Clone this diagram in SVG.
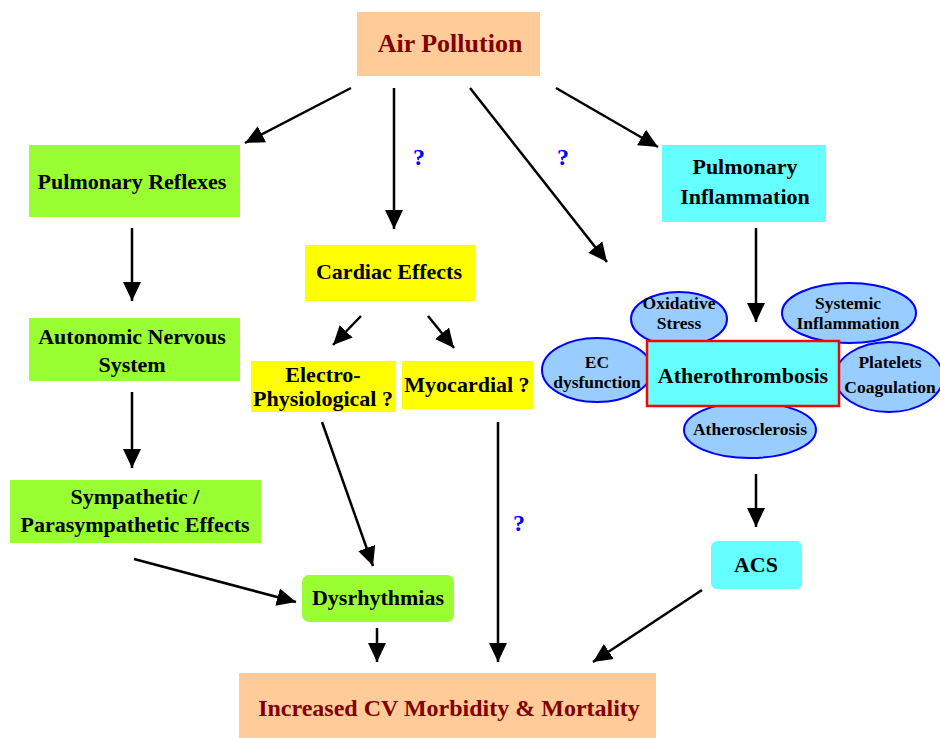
<svg xmlns="http://www.w3.org/2000/svg" width="940" height="738" viewBox="0 0 940 738">
<style>
text{font-family:"Liberation Serif","Times New Roman",serif;font-weight:bold;text-anchor:middle;fill:#000}
.t{font-size:22px}
.big{font-size:24px;fill:#800000}
.e{font-size:17.5px}
.q{font-size:24px;fill:#0000FF}
.peach{fill:#FFCC99}
.green{fill:#99FF33}
.yellow{fill:#FFFF00}
.cyan{fill:#66FFFF}
.ell{fill:#99CCFF;stroke:#0000FF;stroke-width:2}
.c line{stroke:#000;stroke-width:2.5;marker-end:url(#ah)}
</style>
<defs>
<marker id="ah" markerUnits="userSpaceOnUse" markerWidth="20" markerHeight="20" viewBox="0 0 20 20" refX="19" refY="10" orient="auto">
<path d="M0,1 L19,10 L0,19 z" fill="#000"/>
</marker>
</defs>
<rect width="940" height="738" fill="#fff"/>

<g id="air-pollution"><rect class="peach" x="357" y="12" width="183" height="64"/><text class="big" x="450" y="52" style="font-size:26px">Air Pollution</text></g>
<g id="pulmonary-reflexes"><rect class="green" x="29" y="145" width="211" height="72"/><text class="t" x="132" y="189">Pulmonary Reflexes</text></g>
<g id="autonomic"><rect class="green" x="29" y="318" width="211" height="63"/><text class="t" x="132" y="344">Autonomic Nervous</text><text class="t" x="132" y="372">System</text></g>
<g id="sympathetic"><rect class="green" x="10" y="480" width="251" height="63"/><text class="t" x="135" y="504">Sympathetic /</text><text class="t" x="135" y="532">Parasympathetic Effects</text></g>
<g id="cardiac-effects"><rect class="yellow" x="305" y="245" width="170" height="56"/><text class="t" x="389" y="279">Cardiac Effects</text></g>
<g id="electro"><rect class="yellow" x="251" y="361" width="145" height="51"/><text class="t" x="323" y="382">Electro-</text><text class="t" x="323" y="406">Physiological ?</text></g>
<g id="myocardial"><rect class="yellow" x="402" y="361" width="131" height="48"/><text class="t" x="467" y="392">Myocardial ?</text></g>
<g id="dysrhythmias"><rect class="green" x="302" y="575" width="152" height="47" rx="7"/><text class="t" x="378" y="605">Dysrhythmias</text></g>
<g id="pulmonary-inflammation"><rect class="cyan" x="662" y="145" width="164" height="77"/><text class="t" x="745" y="174">Pulmonary</text><text class="t" x="745" y="204">Inflammation</text></g>
<g id="oxidative-stress"><ellipse class="ell" cx="679" cy="319" rx="48" ry="27"/><text class="e" x="679" y="309">Oxidative</text><text class="e" x="679" y="329">Stress</text></g>
<g id="systemic-inflammation"><ellipse class="ell" cx="849" cy="313" rx="67" ry="30"/><text class="e" x="848" y="309">Systemic</text><text class="e" x="848" y="329">Inflammation</text></g>
<g id="ec-dysfunction"><ellipse class="ell" cx="597" cy="370" rx="55" ry="32"/><text class="e" x="597" y="368">EC</text><text class="e" x="597" y="388">dysfunction</text></g>
<g id="platelets"><ellipse class="ell" cx="889" cy="377" rx="54" ry="35"/><text class="e" x="890" y="368">Platelets</text><text class="e" x="890" y="393">Coagulation</text></g>
<g id="atherosclerosis"><ellipse class="ell" cx="750" cy="430" rx="66" ry="28"/><text class="e" x="750" y="435">Atherosclerosis</text></g>
<g id="atherothrombosis"><rect class="cyan" x="647" y="341" width="192" height="65" stroke="#FF0000" stroke-width="2.5"/><text x="743" y="383" style="font-size:22px">Atherothrombosis</text></g>
<g id="acs"><rect class="cyan" x="711" y="541" width="91" height="48" rx="6"/><text class="t" x="756" y="572">ACS</text></g>
<g id="increased"><rect class="peach" x="239" y="673" width="417" height="65"/><text class="big" x="449" y="716">Increased CV Morbidity &amp; Mortality</text></g>

<g id="connectors" class="c">
<line x1="351" y1="88" x2="245" y2="143"/>
<line x1="394" y1="88" x2="394" y2="229"/>
<line x1="470" y1="88" x2="607" y2="262"/>
<line x1="556" y1="88" x2="658" y2="147"/>
<line x1="132" y1="228" x2="132" y2="301"/>
<line x1="132" y1="392" x2="132" y2="468"/>
<line x1="361" y1="316" x2="333" y2="345"/>
<line x1="428" y1="316" x2="454" y2="348"/>
<line x1="756" y1="228" x2="756" y2="322"/>
<line x1="134" y1="559" x2="296" y2="602"/>
<line x1="322" y1="422" x2="373" y2="566"/>
<line x1="377" y1="628" x2="377" y2="662"/>
<line x1="498" y1="422" x2="498" y2="662"/>
<line x1="756" y1="474" x2="756" y2="527"/>
<line x1="702" y1="590" x2="593" y2="662"/>
</g>
<g id="labels">
<text class="q" x="419" y="165">?</text>
<text class="q" x="563" y="165">?</text>
<text class="q" x="519" y="531">?</text>
</g>
</svg>
